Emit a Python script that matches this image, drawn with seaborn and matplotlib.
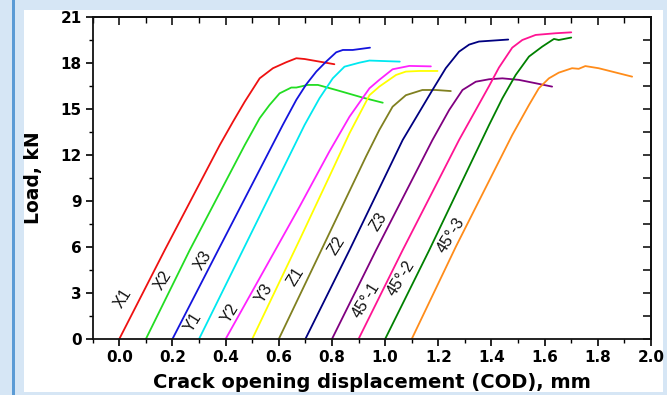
import numpy as np
import pandas as pd
import matplotlib
matplotlib.use("Agg")
import matplotlib.pyplot as plt
from matplotlib.patches import Rectangle
from matplotlib.ticker import MultipleLocator
import seaborn as sns

specimens = ["X1", "X2", "X3", "Y1", "Y2", "Y3", "Z1", "Z2", "Z3", "45°-1", "45°-2", "45°-3"]
colors = ["#ee1111", "#22dd22", "#1414dd", "#00e8f0", "#ff22ff", "#ffff00",
          "#808020", "#000080", "#800080", "#ff1493", "#008000", "#ff8c1a"]

x_X1 = [0.0, 0.171, 0.378, 0.428, 0.472, 0.528, 0.578, 0.628, 0.666, 0.697, 0.753, 0.809]
y_X1 = [0, 5.8, 12.65, 14.18, 15.48, 17.0, 17.66, 18.05, 18.31, 18.26, 18.09, 17.92]
x_X2 = [0.1, 0.265, 0.472, 0.528, 0.565, 0.603, 0.647, 0.666, 0.709, 0.747, 0.816, 0.916, 0.991]
y_X2 = [0, 5.8, 12.65, 14.4, 15.26, 16.02, 16.4, 16.4, 16.57, 16.57, 16.24, 15.74, 15.41]
x_X3 = [0.2, 0.372, 0.615, 0.666, 0.703, 0.741, 0.778, 0.816, 0.841, 0.878, 0.943]
y_X3 = [0, 5.8, 13.96, 15.6, 16.6, 17.44, 18.09, 18.7, 18.85, 18.85, 19.0]
x_Y1 = [0.3, 0.465, 0.697, 0.753, 0.803, 0.847, 0.903, 0.941, 1.055]
y_Y1 = [0, 5.8, 13.96, 15.7, 17.0, 17.76, 18.02, 18.16, 18.09]
x_Y2 = [0.4, 0.678, 0.79, 0.866, 0.941, 0.978, 1.028, 1.091, 1.172]
y_Y2 = [0, 8.63, 12.22, 14.5, 16.35, 16.9, 17.59, 17.81, 17.78]
x_Y3 = [0.5, 0.678, 0.79, 0.866, 0.941, 0.978, 1.041, 1.078, 1.128, 1.197]
y_Y3 = [0, 6.46, 10.59, 13.42, 15.9, 16.46, 17.22, 17.44, 17.48, 17.48]
x_Z1 = [0.6, 0.76, 0.928, 0.978, 1.028, 1.078, 1.14, 1.19, 1.247]
y_Z1 = [0, 5.8, 11.9, 13.63, 15.15, 15.9, 16.24, 16.24, 16.17]
x_Z2 = [0.7, 0.866, 1.066, 1.178, 1.228, 1.278, 1.316, 1.353, 1.463]
y_Z2 = [0, 5.8, 12.98, 16.24, 17.66, 18.74, 19.2, 19.4, 19.53]
x_Z3 = [0.8, 0.966, 1.178, 1.241, 1.291, 1.341, 1.391, 1.441, 1.503, 1.566, 1.628]
y_Z3 = [0, 5.8, 12.98, 14.94, 16.24, 16.78, 16.94, 17.0, 16.9, 16.68, 16.46]
x_A1 = [0.9, 1.066, 1.278, 1.341, 1.391, 1.428, 1.478, 1.516, 1.566, 1.641, 1.70]
y_A1 = [0, 5.8, 12.98, 14.94, 16.5, 17.7, 19.0, 19.5, 19.83, 19.94, 20.0]
x_A2 = [1.0, 1.166, 1.391, 1.441, 1.491, 1.541, 1.591, 1.635, 1.653, 1.70]
y_A2 = [0, 5.8, 13.96, 15.7, 17.22, 18.42, 19.07, 19.57, 19.5, 19.66]
x_A3 = [1.1, 1.266, 1.478, 1.541, 1.578, 1.616, 1.653, 1.703, 1.728, 1.753, 1.803, 1.929]
y_A3 = [0, 6.02, 13.3, 15.26, 16.35, 17.0, 17.37, 17.66, 17.62, 17.8, 17.66, 17.11]

xs = [x_X1, x_X2, x_X3, x_Y1, x_Y2, x_Y3, x_Z1, x_Z2, x_Z3, x_A1, x_A2, x_A3]
ys = [y_X1, y_X2, y_X3, y_Y1, y_Y2, y_Y3, y_Z1, y_Z2, y_Z3, y_A1, y_A2, y_A3]

label_x = [0.014, 0.164, 0.314, 0.276, 0.415, 0.546, 0.663, 0.817, 0.974, 0.929, 1.06, 1.248]
label_y = [2.67, 3.85, 5.15, 1.11, 1.70, 3.0, 4.04, 6.07, 7.63, 2.54, 3.98, 6.78]

rows = []
for name, xv, yv in zip(specimens, xs, ys):
    for i, (a, b) in enumerate(zip(xv, yv)):
        rows.append({"specimen": name, "order": i, "COD": a, "Load": b})
df = pd.DataFrame(rows)

sns.set_style("ticks")
plt.rcParams["font.family"] = ["Liberation Sans", "DejaVu Sans"]
plt.rcParams["text.color"] = "black"
plt.rcParams["axes.labelcolor"] = "black"
plt.rcParams["xtick.color"] = "black"
plt.rcParams["ytick.color"] = "black"

fig = plt.figure(figsize=(6.67, 3.95), dpi=100)
fig.patch.set_facecolor("#d6e6f5")
W, H = 667, 395
fig.patches.append(Rectangle((24 / W, 3 / H), (663 - 24) / W, (385 - 3) / H,
                             transform=fig.transFigure, facecolor="white", edgecolor="none", zorder=-10))
fig.patches.append(Rectangle((12 / W, 0), 3.5 / W, 1, transform=fig.transFigure,
                             facecolor="#5b9bd5", edgecolor="none", zorder=-10))

ax = fig.add_axes([92.7 / W, (395 - 339) / H, (651 - 92.7) / W, (339 - 17) / H])
ax.set_zorder(5)
ax.set_facecolor("white")
sns.lineplot(data=df, x="COD", y="Load", hue="specimen", hue_order=specimens,
             palette=dict(zip(specimens, colors)), sort=False, estimator=None,
             units="specimen", linewidth=1.3, legend=False, ax=ax)

for name, tx, ty in zip(specimens, label_x, label_y):
    ax.text(tx, ty, name, rotation=58, ha="center", va="center", fontsize=11.5,
            color="#111111", rotation_mode="anchor")

ax.set_xlim(-0.1, 2.0)
ax.set_ylim(0, 21)
ax.xaxis.set_major_locator(MultipleLocator(0.2))
ax.xaxis.set_minor_locator(MultipleLocator(0.1))
ax.yaxis.set_major_locator(MultipleLocator(3))
ax.yaxis.set_minor_locator(MultipleLocator(1.5))
ax.xaxis.set_major_formatter(matplotlib.ticker.FormatStrFormatter("%.1f"))
ax.tick_params(which="major", direction="out", length=5, width=1.2, labelsize=11, pad=3,
               colors="black")
ax.tick_params(which="minor", direction="out", length=3, width=1.0, colors="black")
for lab in ax.get_xticklabels() + ax.get_yticklabels():
    lab.set_fontweight("bold")
    lab.set_family("DejaVu Sans")

for s in ax.spines.values():
    s.set_linewidth(1.3)
    s.set_color("#111111")

top = ax.secondary_xaxis("top")
top.xaxis.set_major_locator(MultipleLocator(0.2))
top.xaxis.set_minor_locator(MultipleLocator(0.1))
top.tick_params(which="major", direction="in", length=6, width=1.1, labeltop=False, colors="black")
top.tick_params(which="minor", direction="in", length=4, width=1.0, colors="black")
top.spines["top"].set_linewidth(1.3)
top.spines["top"].set_color("#111111")
right = ax.secondary_yaxis("right")
right.yaxis.set_major_locator(MultipleLocator(1.5))
right.tick_params(which="major", direction="in", length=6, width=1.1, labelright=False, colors="black")
right.tick_params(which="minor", length=0)
right.spines["right"].set_linewidth(1.3)
right.spines["right"].set_color("#111111")

ax.set_xlabel("Crack opening displacement (COD), mm", fontsize=14, fontweight="bold",
              family="DejaVu Sans", color="black")
ax.set_ylabel("Load, kN", fontsize=13.5, fontweight="bold", family="DejaVu Sans", color="black")
ax.xaxis.label.set_va("center")
ax.yaxis.label.set_va("center")
ax.xaxis.set_label_coords(0.5, (339 - 383) / 322)
ax.yaxis.set_label_coords((34 - 92.7) / 558.3, 0.5)

fig.savefig("out.png", dpi=100, facecolor=fig.get_facecolor())
